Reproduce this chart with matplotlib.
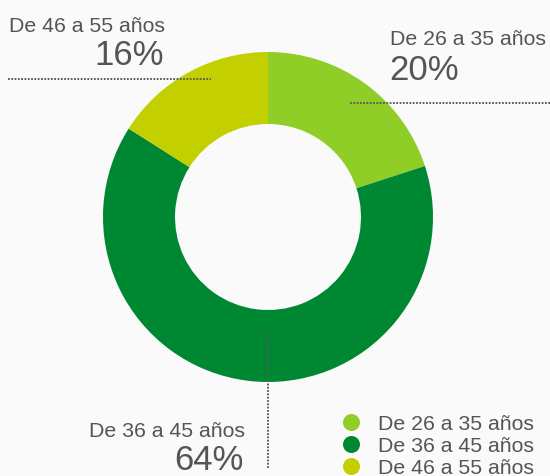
import matplotlib
matplotlib.use("Agg")
import matplotlib.pyplot as plt

categories = ["De 26 a 35 años", "De 36 a 45 años", "De 46 a 55 años"]
values = [20, 64, 16]
pct_labels = ["20%", "64%", "16%"]
colors = ["#8fce26", "#008732", "#c4cf00"]

W, H = 550, 477
bg = "#fafafa"
txt = "#555555"
plt.rcParams['font.family'] = ['Liberation Sans', 'DejaVu Sans']

fig = plt.figure(figsize=(W / 100, H / 100), dpi=100, facecolor=bg)
ax = fig.add_axes([0, 0, 1, 1])
ax.set_facecolor(bg)

def Y(py):
    return H - py

cx, cy, R = 268, Y(218), 165
ax.pie(values, colors=colors, startangle=90, counterclock=False,
       center=(cx, cy), radius=R, wedgeprops=dict(width=72, linewidth=0),
       frame=True)
ax.set_xlim(0, W)
ax.set_ylim(0, H)
ax.set_aspect('equal')
ax.axis('off')

ls = dict(color="#5a5a5a", linewidth=1.4, linestyle=(0, (0.9, 0.8)), zorder=5)
# leader lines
ax.plot([8, 211], [Y(80), Y(80)], **ls)
ax.plot([350, 550], [Y(104), Y(104)], **ls)
ax.plot([268, 268], [Y(335), Y(470)], **ls)

fs_cat, fs_pct = 15.3, 25
# 46-55
ax.text(9, Y(32), categories[2], fontsize=fs_cat, color=txt, ha='left', va='baseline')
ax.text(164, Y(65), pct_labels[2], fontsize=fs_pct, color=txt, ha='right', va='baseline')
# 26-35
ax.text(390, Y(45), categories[0], fontsize=fs_cat, color=txt, ha='left', va='baseline')
ax.text(389, Y(80), pct_labels[0], fontsize=fs_pct, color=txt, ha='left', va='baseline')
# 36-45
ax.text(245, Y(437), categories[1], fontsize=fs_cat, color=txt, ha='right', va='baseline')
ax.text(244, Y(470), pct_labels[1], fontsize=fs_pct, color=txt, ha='right', va='baseline')

# legend
for i, (c, lab) in enumerate(zip(colors, categories)):
    yy = Y(423 + 22 * i)
    ax.scatter([351], [yy], s=150, color=c, zorder=6, linewidths=0)
    ax.text(378, yy, lab, fontsize=fs_cat, color=txt, ha='left', va='center_baseline')

fig.savefig("out.png", dpi=100, facecolor=bg)
